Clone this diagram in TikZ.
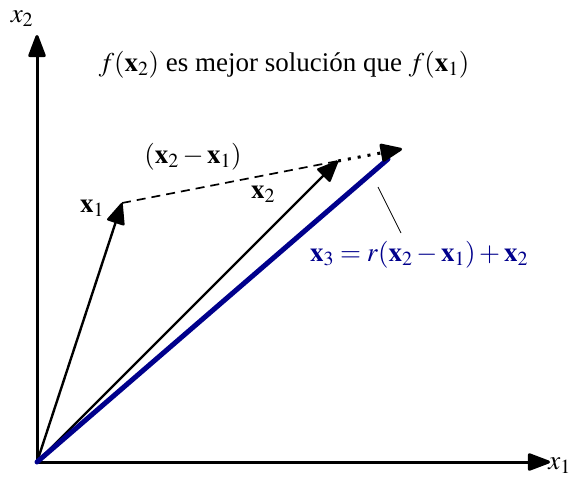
\documentclass[tikz,border=0pt]{standalone}
\usepackage{mathptmx}
\usepackage{fontspec}
\setmainfont{Liberation Serif}
\usetikzlibrary{arrows.meta}
\definecolor{navyb}{RGB}{0,0,140}
\begin{document}
\begin{tikzpicture}[x=1pt,y=-1pt,
  axis/.style={line width=3pt,-{Triangle[length=25pt,width=18pt,round]}},
  vec/.style={line width=2.4pt,-{Triangle[length=23pt,width=19pt,round]}},
  lbl/.style={font=\fontsize{27}{31}\selectfont,inner sep=0pt}]
\useasboundingbox (0,0) rectangle (572,477);
\coordinate (O) at (37,462);
\coordinate (X1end) at (550,462);
\coordinate (X2end) at (37,35);
\coordinate (A) at (122,203);
\coordinate (B) at (338,161);
\coordinate (C) at (402,149);
\draw[axis] (O) -- (X1end);
\draw[axis] (O) -- (X2end);
\node[lbl,anchor=east] (lx1) at (571,466) {$x_1$};
\node[lbl] (lx2) at (22,19) {$x_2$};
\draw[vec] (O) -- (A);
\draw[line width=1.7pt,dash pattern=on 9pt off 6pt] (A) -- (B);
\draw[vec] (O) -- (B);
\draw[navyb,line width=5pt,line cap=round] (O) -- (388,159);
\draw[line width=3pt,dash pattern=on 3pt off 7pt,-{Triangle[length=24pt,width=19pt,round]}] (B) -- (C);
\node[lbl] (t1) at (92,208) {$\mathbf{x}_1$};
\node[lbl] (t2) at (263,194) {$\mathbf{x}_2$};
\node[lbl] (t12) at (193,157) {$(\mathbf{x}_2-\mathbf{x}_1)$};
\node[lbl] (top) at (284,65) {$f(\mathbf{x}_2)$ es mejor solución que $f(\mathbf{x}_1)$};
\node[lbl,text=navyb] (t3) at (419,255) {$\mathbf{x}_3=r(\mathbf{x}_2-\mathbf{x}_1)+\mathbf{x}_2$};
\coordinate (p1) at (378,187);
\draw[line width=0.8pt] (p1) -- (401,233);
\end{tikzpicture}
\end{document}
